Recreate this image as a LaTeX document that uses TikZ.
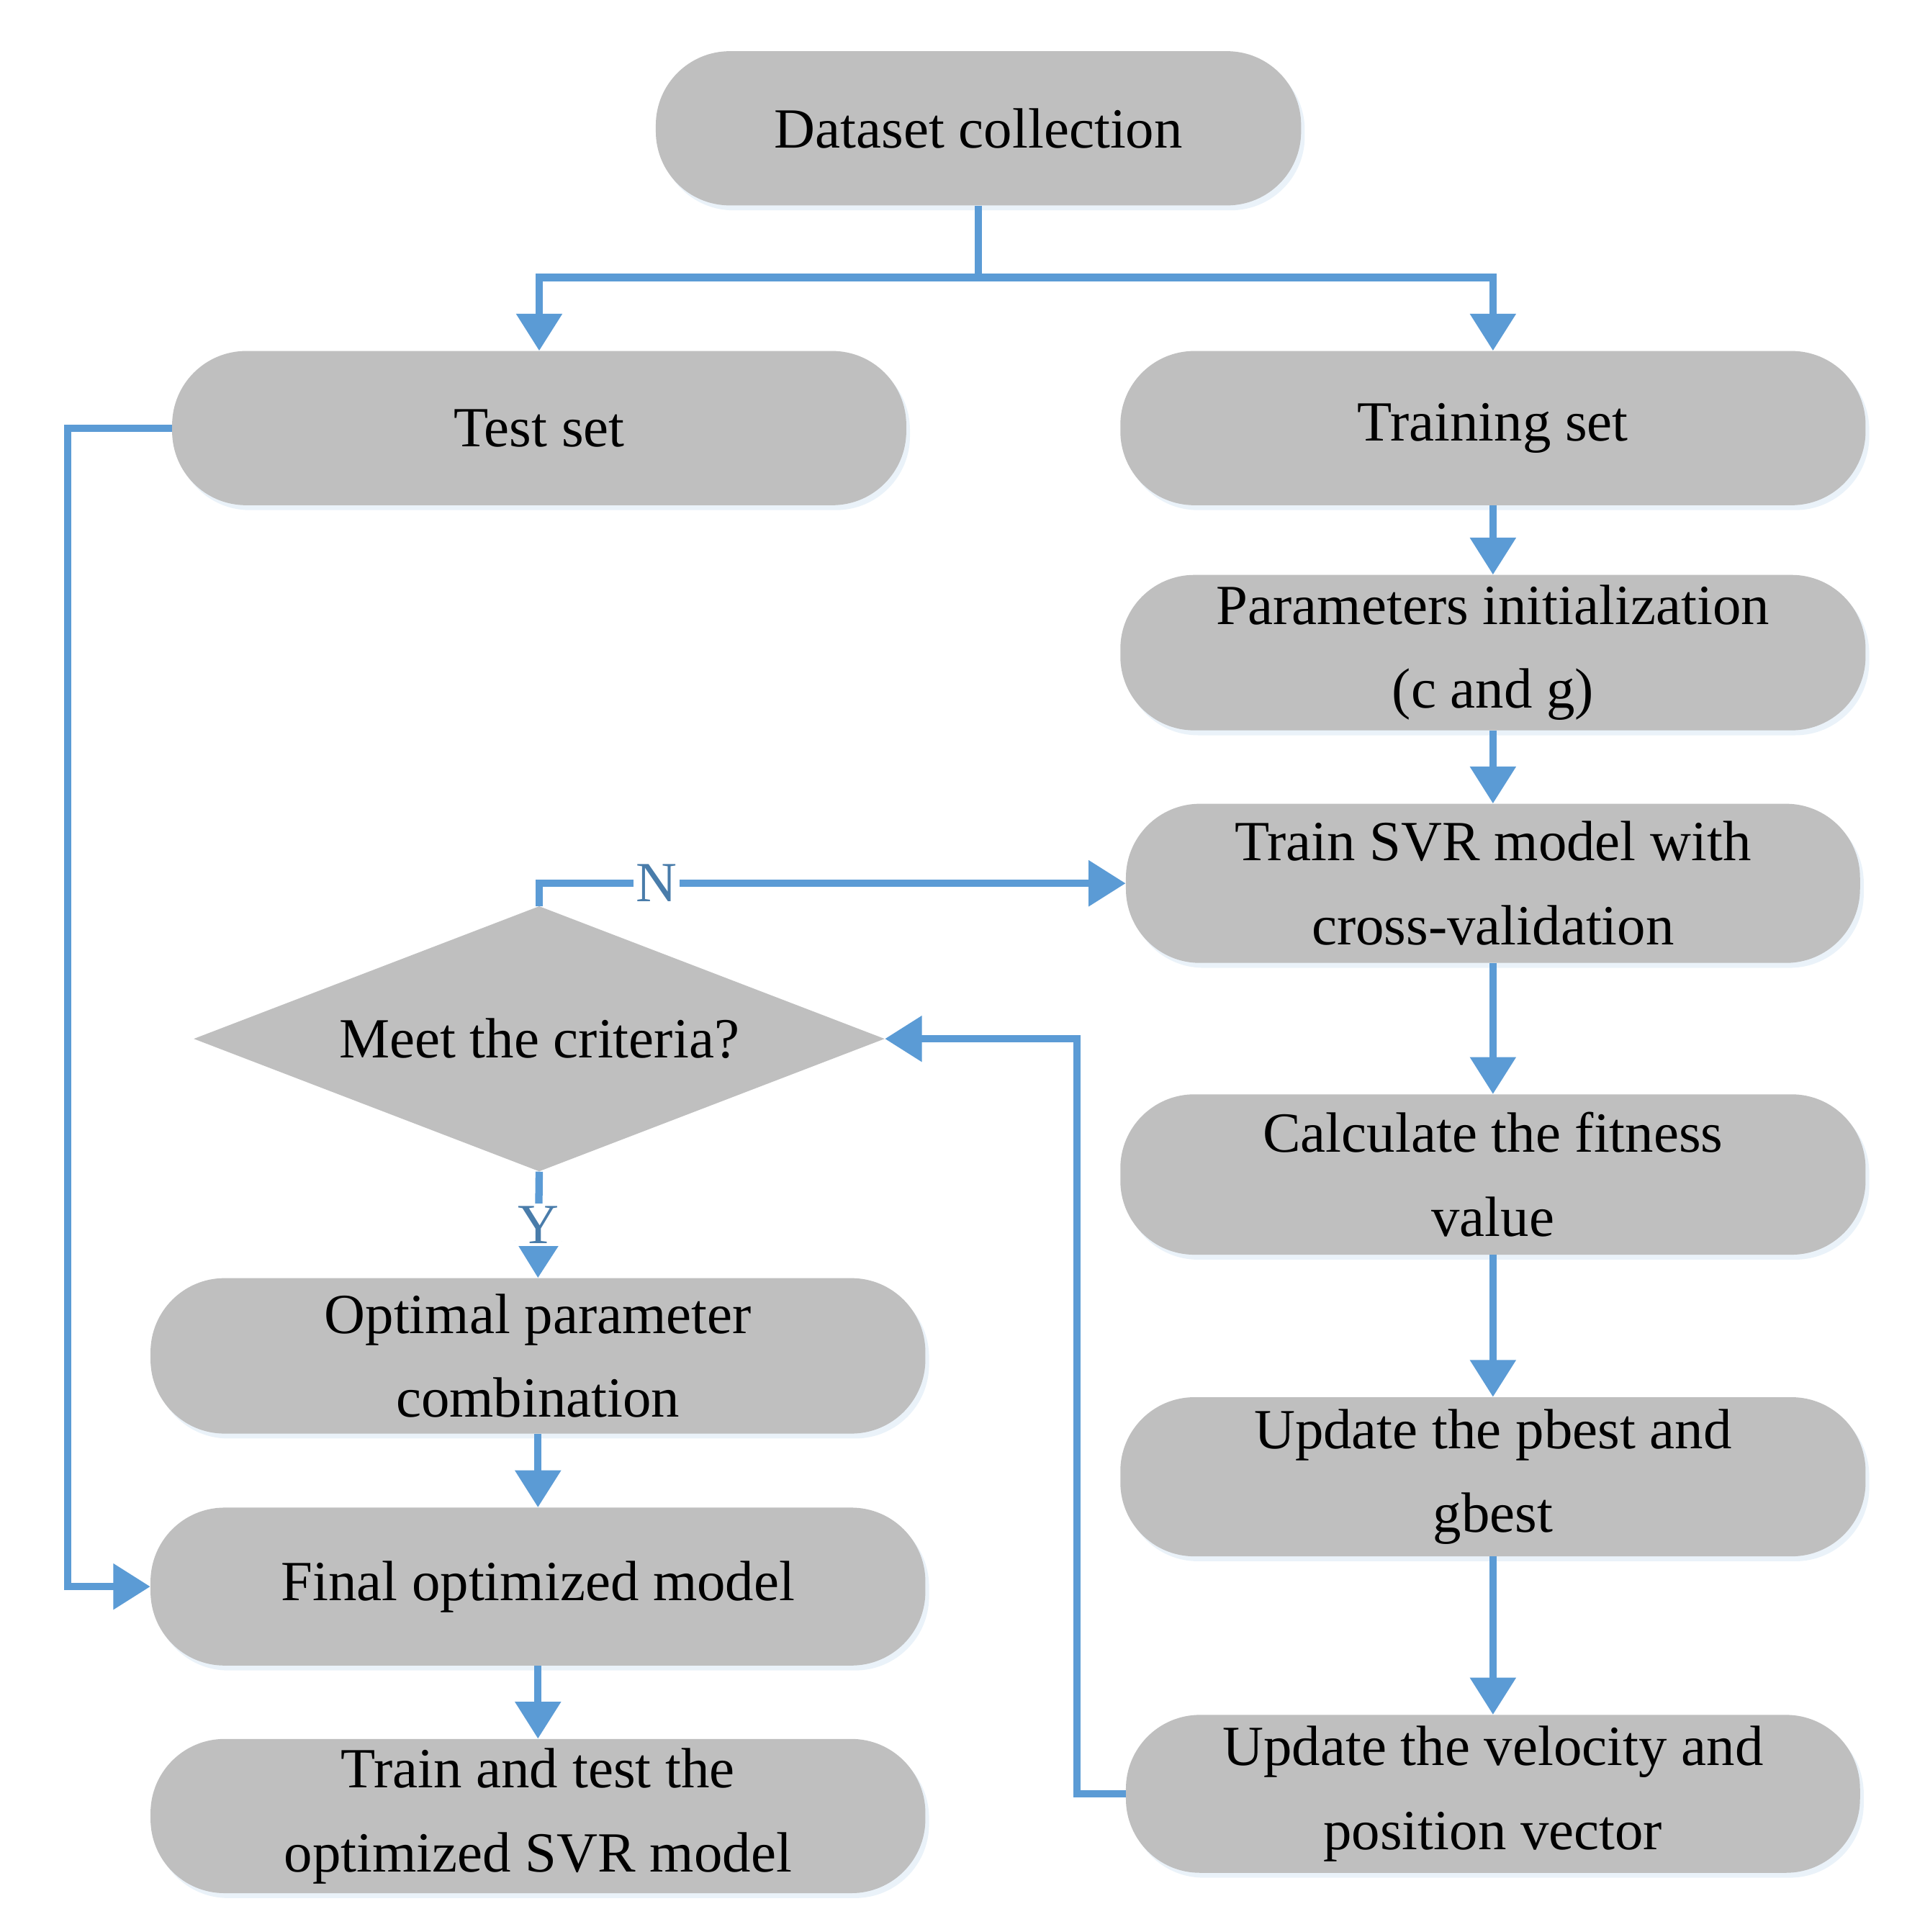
\documentclass[tikz,border=0pt]{standalone}
\usepackage{fontspec}
\setmainfont{Liberation Serif}
\usetikzlibrary{arrows.meta,shapes.geometric,shadows}
\definecolor{ln}{HTML}{5B9BD5}
\definecolor{bx}{HTML}{BFBFBF}
\begin{document}
\begin{tikzpicture}[x=1pt,y=-1pt,
 box/.style={draw=none,fill=bx,rounded corners=60pt,align=center,inner sep=0pt,
   font=\fontsize{46}{68}\selectfont,drop shadow={shadow xshift=3pt,shadow yshift=-4pt,fill=ln!25,opacity=0.5}},
 con/.style={draw=ln,line width=6pt,-{Triangle[length=30pt,width=36pt]}},
 pl/.style={draw=ln,line width=6pt},
 lab/.style={fill=white,text=ln!80!black,font=\fontsize{46}{50}\selectfont,inner sep=2pt}]
\useasboundingbox (0,0) rectangle (1560,1566);
\node[box,minimum width=523pt,minimum height=125pt] (ds) at (793,104) {Dataset collection};
\node[box,minimum width=595pt,minimum height=125pt] (test) at (437,347) {Test set};
\node[box,minimum width=604pt,minimum height=125pt] (train) at (1210,347) {Training set};
\node[box,minimum width=604pt,minimum height=126pt] (init) at (1210,529) {Parameters initialization\\(c and g)};
\node[box,minimum width=595pt,minimum height=129pt] (svr) at (1210,716) {Train SVR model with\\cross-validation};
\node[diamond,aspect=2.6,fill=bx,minimum width=560pt,minimum height=215pt,inner sep=0pt,font=\fontsize{46}{50}\selectfont] (dia) at (437,842) {Meet the criteria?};
\node[box,minimum width=604pt,minimum height=130pt] (fit) at (1210,952) {Calculate the fitness\\value};
\node[box,minimum width=604pt,minimum height=129pt] (pb) at (1210,1197) {Update the pbest and\\gbest};
\node[box,minimum width=595pt,minimum height=128pt] (vel) at (1210,1454) {Update the velocity and\\position vector};
\node[box,minimum width=628pt,minimum height=126pt] (opt) at (436,1099) {Optimal parameter\\combination};
\node[box,minimum width=628pt,minimum height=128pt] (fin) at (436,1286) {Final optimized model};
\node[box,minimum width=628pt,minimum height=125pt] (tt) at (436,1472) {Train and test the\\optimized SVR model};
\coordinate (j) at (793,225);
\draw[pl] (ds.south) -- (j);
\draw[con] (j) -| (test.north);
\draw[con] (j) -| (train.north);
\draw[con] (test.west) -- (55,347) |- (fin.west);
\draw[con] (train) -- (init);
\draw[con] (init) -- (svr);
\draw[con] (svr) -- (fit);
\draw[con] (fit) -- (pb);
\draw[con] (pb) -- (vel);
\draw[con] (vel.west) -- (873,1454) |- (dia.east);
\draw[con] (dia.north) |- node[lab,pos=0.6]{N} (svr.west);
\draw[con] (dia.south) -- node[lab,pos=0.5]{Y} (opt.north);
\draw[con] (opt) -- (fin);
\draw[con] (fin) -- (tt);
\end{tikzpicture}
\end{document}
